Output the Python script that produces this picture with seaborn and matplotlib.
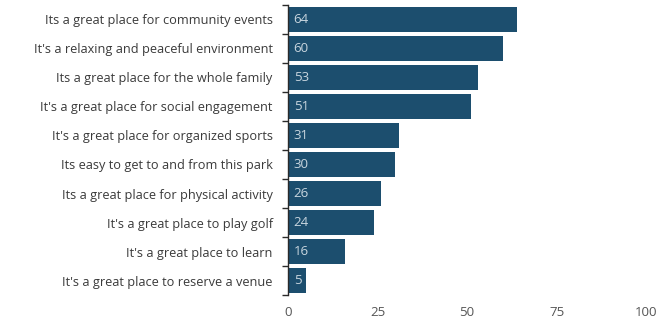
import numpy as np
import pandas as pd
import matplotlib
matplotlib.use("Agg")
import matplotlib.pyplot as plt
import seaborn as sns

statements = [
    "Its a great place for community events",
    "It's a relaxing and peaceful environment",
    "Its a great place for the whole family",
    "It's a great place for social engagement",
    "It's a great place for organized sports",
    "Its easy to get to and from this park",
    "Its a great place for physical activity",
    "It's a great place to play golf",
    "It's a great place to learn",
    "It's a great place to reserve a venue",
]
scores = [64, 60, 53, 51, 31, 30, 26, 24, 16, 5]
x_ticks = [0, 25, 50, 75, 100]

df = pd.DataFrame({"statement": statements, "score": scores})

sns.set_theme(style="white")
plt.rcParams["font.family"] = ["Open Sans", "DejaVu Sans"]

fig = plt.figure(figsize=(6.58, 3.25), dpi=100)
ax = fig.add_axes([0.4377, 0.092, 0.5443, 0.893])

bar_color = "#1c4e6e"
sns.barplot(data=df, x="score", y="statement", orient="h", color=bar_color,
            width=0.88, saturation=1, linewidth=0, ax=ax)

for i, v in enumerate(scores):
    ax.text(1.6, i, f"{v}", ha="left", va="center", color="#c9d6df",
            fontsize=9.5)

ax.set_xlim(0, 100)
ax.set_ylim(9.5, -0.5)
ax.set_xticks(x_ticks)
ax.set_xticklabels([str(t) for t in x_ticks])
ax.set_xlabel("")
ax.set_ylabel("")

for s in ["top", "right", "bottom"]:
    ax.spines[s].set_visible(False)
ax.spines["left"].set_color("#2a2a2a")
ax.spines["left"].set_linewidth(1.0)

ax.tick_params(axis="x", length=0, labelsize=9.5, labelcolor="#555555", pad=8)
ax.tick_params(axis="y", which="major", length=0, labelsize=9.2,
               labelcolor="#3a3a3a", pad=11)
ax.set_yticks(np.arange(-0.5, 10, 1), minor=True)
ax.tick_params(axis="y", which="minor", left=True, length=4, width=1,
               color="#2a2a2a")

fig.savefig("out.png", dpi=100)
